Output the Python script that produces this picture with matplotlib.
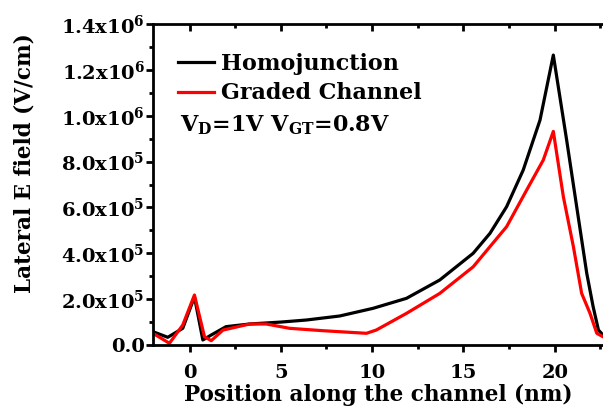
import numpy as np
import matplotlib
matplotlib.use('Agg')
import matplotlib.pyplot as plt
from matplotlib.ticker import MultipleLocator, FuncFormatter

plt.rcParams.update({
    'font.family': 'DejaVu Serif',
    'font.weight': 'bold',
    'mathtext.fontset': 'custom',
    'mathtext.rm': 'DejaVu Serif:bold',
    'mathtext.bf': 'DejaVu Serif:bold',
    'mathtext.it': 'DejaVu Serif:bold',
    'mathtext.default': 'rm',
})

# Homojunction
x_homo = [-2.0, -1.19, -0.37, 0.27, 0.73, 1.19, 2.0, 3.29, 5.0, 6.4, 8.22,
          10.05, 11.88, 13.7, 15.53, 16.45, 17.36, 18.27, 19.19, 19.92,
          20.65, 21.2, 21.75, 22.1, 22.39, 22.64]
y_homo = [58000, 33600, 72800, 210000, 21800, 43600, 80000, 91600, 100000,
          109000, 126500, 160000, 203600, 283500, 400000, 487000, 603000,
          763000, 981000, 1265000, 894000, 603000, 313000, 167000, 65400,
          43600]

# Graded channel
x_grad = [-2.0, -1.1, -0.37, 0.27, 0.82, 1.19, 1.83, 3.29, 4.2, 5.48, 7.3,
          8.22, 9.69, 10.23, 11.88, 13.7, 15.53, 17.36, 18.46, 19.37, 19.92,
          20.47, 21.02, 21.47, 21.93, 22.3, 22.64]
y_grad = [51000, 7400, 87000, 218000, 36000, 18800, 65000, 91600, 91600,
          72800, 62400, 58000, 51000, 65400, 138000, 225000, 341000, 516000,
          676000, 807000, 932000, 646700, 428700, 225500, 138000, 51000, 36000]

fig = plt.figure(figsize=(6.03, 4.09), dpi=100)
ax = fig.add_axes([0.2537, 0.1565, 0.7463, 0.7845])

ax.plot(x_homo, y_homo, color='black', linewidth=2.3, label='Homojunction')
ax.plot(x_grad, y_grad, color='#ff0000', linewidth=2.3, label='Graded Channel')

ax.set_xlim(-2.0, 22.64)
ax.set_ylim(0, 1.4e6)

ax.xaxis.set_major_locator(MultipleLocator(5))
ax.xaxis.set_minor_locator(MultipleLocator(2.5))
ax.yaxis.set_major_locator(MultipleLocator(2e5))
ax.yaxis.set_minor_locator(MultipleLocator(1e5))

def yfmt(v, pos):
    if v <= 0:
        return '0.0'
    e = int(np.floor(np.log10(v)))
    return f'{v / 10**e:.1f}x10$^{{{e}}}$'

ax.yaxis.set_major_formatter(FuncFormatter(yfmt))

ax.spines['right'].set_visible(False)
for s in ['left', 'bottom', 'top']:
    ax.spines[s].set_linewidth(2)

ax.tick_params(axis='x', which='major', direction='out', length=5, width=2,
               labelsize=14, pad=9, top=True)
ax.tick_params(axis='x', which='minor', direction='out', length=3, width=2, top=True)
ax.tick_params(axis='y', which='major', direction='out', length=5, width=2,
               labelsize=14, pad=1)
ax.tick_params(axis='y', which='minor', direction='out', length=3, width=2)
ax.xaxis.set_tick_params(which='both', labeltop=False)
for t in ax.xaxis.get_major_ticks() + ax.xaxis.get_minor_ticks():
    t.tick2line.set_marker(3)

ax.set_xlabel('Position along the channel (nm)', fontsize=15.5, fontweight='bold', labelpad=1)
ax.set_ylabel('Lateral E field (V/cm)', fontsize=15.5, fontweight='bold')
ax.yaxis.set_label_coords(-0.262, 0.567)

leg = ax.legend(loc='upper left', bbox_to_anchor=(0.02, 0.96), frameon=False,
                fontsize=16, handlelength=1.65, handletextpad=0.3,
                labelspacing=0.35, borderaxespad=0.3)
ax.text(0.06, 0.685, 'V$_{D}$=1V V$_{GT}$=0.8V', transform=ax.transAxes,
        fontsize=16, fontweight='bold', va='center')

fig.savefig('out.png', dpi=100)
